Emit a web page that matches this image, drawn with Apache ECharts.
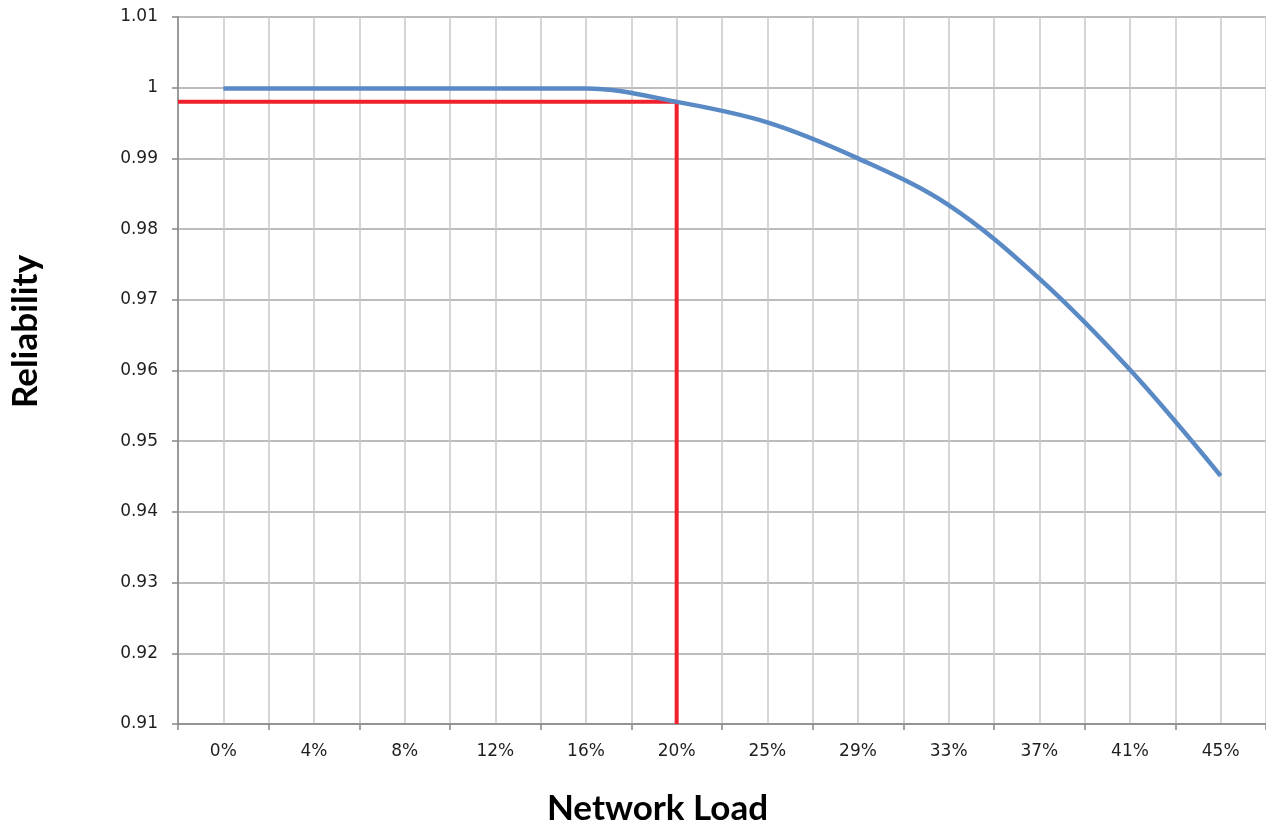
<!DOCTYPE html>
<html>
<head>
<meta charset="utf-8">
<title>Reliability vs Network Load</title>
<script src="https://cdn.jsdelivr.net/npm/echarts@6/dist/echarts.min.js"></script>
<style>
  html, body { margin: 0; padding: 0; background: #ffffff; }
  #chart { width: 1266px; height: 825px; }
</style>
</head>
<body>
<div id="chart"></div>
<script>
// Network load categories (x axis) and measured reliability at each load
const loadLabels = ['0%', '4%', '8%', '12%', '16%', '20%', '25%', '29%', '33%', '37%', '41%', '45%'];
const reliability = [0.9999, 0.9999, 0.9999, 0.9999, 0.9999, 0.998, 0.9951, 0.9900, 0.9834, 0.9730, 0.9601, 0.9451];

// Y axis range and step
const yMin = 0.91;
const yMax = 1.01;
const yStep = 0.01;

// Highlighted operating point: 20% load
const markerIndex = 5;
const markerValue = 0.998;

// Red guide: from the y axis across to the operating point, then down to the x axis
const guidePath = [
  [-0.5, markerValue],
  [markerIndex, markerValue],
  [markerIndex, yMin]
];

const chart = echarts.init(document.getElementById('chart'), null, { renderer: 'canvas' });

const labelFont = '"DejaVu Sans", Verdana, sans-serif';
const titleFont = 'Lato, "Open Sans", sans-serif';

chart.setOption({
  animation: false,
  backgroundColor: '#ffffff',
  grid: { left: 178, top: 17, right: 0, bottom: 101, containLabel: false, outerBoundsMode: 'none' },
  xAxis: [
    {
      type: 'category',
      data: loadLabels,
      boundaryGap: true,
      name: 'Network Load',
      nameLocation: 'middle',
      nameGap: 67,
      nameTextStyle: {
        fontFamily: titleFont, fontWeight: 'bold', fontSize: 35, color: '#000000',
        padding: [0, 129, 0, 0]
      },
      axisLine: { show: true, onZero: false, lineStyle: { color: '#868686', width: 1.5 } },
      axisTick: { show: true, length: 6, lineStyle: { color: '#868686', width: 1.5 } },
      axisLabel: { show: true, interval: 0, margin: 19, fontFamily: labelFont, fontSize: 17, color: '#1e1e1e' },
      splitLine: { show: false }
    },
    {
      // fine vertical grid: category boundaries and centres
      type: 'value',
      min: -0.5,
      max: 11.5,
      interval: 0.5,
      position: 'bottom',
      axisLine: { show: false, onZero: false },
      axisTick: { show: false },
      axisLabel: { show: false },
      splitLine: { show: true, lineStyle: { color: '#c9c9c9', width: 1.5 } }
    }
  ],
  yAxis: {
    type: 'value',
    min: yMin,
    max: yMax,
    interval: yStep,
    name: 'Reliability',
    nameLocation: 'middle',
    nameRotate: 90,
    nameGap: 135,
    nameTextStyle: {
      fontFamily: titleFont, fontWeight: 'bold', fontSize: 35, color: '#000000',
      padding: [0, 0, 0, 78]
    },
    axisLine: { show: true, onZero: false, lineStyle: { color: '#868686', width: 1.5 } },
    axisTick: { show: true, length: 6, lineStyle: { color: '#868686', width: 1.5 } },
    axisLabel: { margin: 20, fontFamily: labelFont, fontSize: 17, color: '#1e1e1e' },
    splitLine: { show: true, lineStyle: { color: '#a6a6a6', width: 1.5 } }
  },
  series: [
    {
      name: 'Operating point',
      type: 'line',
      xAxisIndex: 1,
      data: guidePath,
      symbol: 'none',
      lineStyle: { color: '#f0202c', width: 4 },
      z: 2
    },
    {
      name: 'Reliability',
      type: 'line',
      xAxisIndex: 0,
      data: reliability,
      smooth: 0.35,
      symbol: 'none',
      lineStyle: { color: '#5a8ac6', width: 4.5 },
      z: 3
    }
  ]
});
</script>
</body>
</html>
